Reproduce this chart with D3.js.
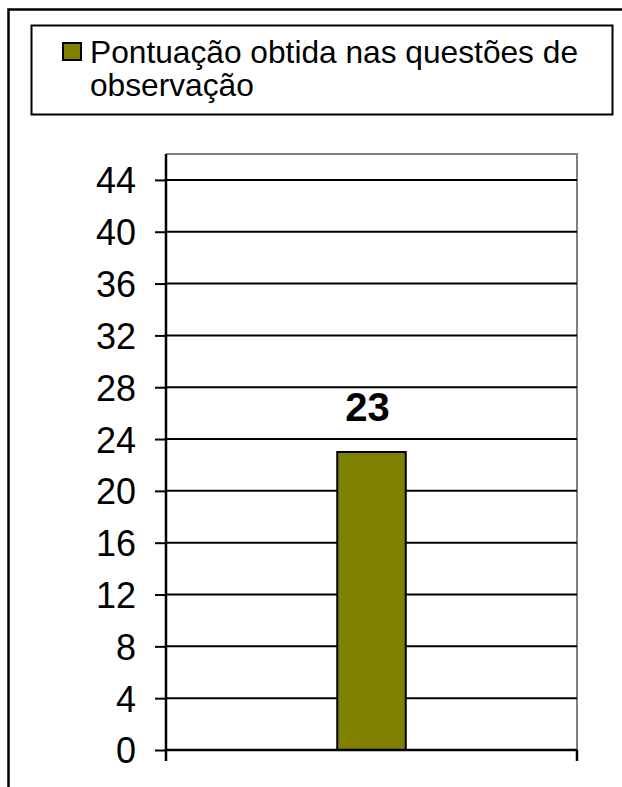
<!DOCTYPE html>
<html><head><meta charset="utf-8">
<script src="https://cdn.jsdelivr.net/npm/d3@7"></script>
<style>body{margin:0;background:#fff}svg{display:block}</style>
</head><body>
<script>
const categories = ["Pontuação obtida nas questões de observação"];
const values = [23];
const seriesName = ["Pontuação obtida nas questões de", "observação"];
const yTicks = [0,4,8,12,16,20,24,28,32,36,40,44];
const yMax = 46;

(function(){
const W = 622, H = 787;
const svg = d3.select("body").append("svg").attr("width", W).attr("height", H);
const font = "Liberation Sans, Arial, sans-serif";

// outer frame
svg.append("path").attr("d", `M8.5,${H+5} L8.5,9.5 L${W+5},9.5`).attr("fill","none").attr("stroke","#000").attr("stroke-width",2.5);

// legend
const lg = svg.append("g");
lg.append("rect").attr("x",31.5).attr("y",25.5).attr("width",581).attr("height",89).attr("fill","#fff").attr("stroke","#000").attr("stroke-width",2);
lg.append("rect").attr("x",63).attr("y",43).attr("width",18).attr("height",17).attr("fill","#808000").attr("stroke","#000").attr("stroke-width",2);
lg.append("text").attr("font-family",font).attr("font-size",31.7).attr("fill","#000")
  .selectAll("tspan").data(seriesName).join("tspan")
  .attr("x",90).attr("y",(d,i)=>63+i*33).text(d=>d);

// plot
const pl = 166, pr = 577, pt = 154, pb = 750;
const x = d3.scaleBand().domain(categories).range([pl,pr]).paddingInner(0).paddingOuter(0);
const y = d3.scaleLinear().domain([0,yMax]).range([pb,pt]);

// plot border (gray top/right)
svg.append("path").attr("d",`M${pl},${pt} L${pr},${pt} L${pr},${pb}`).attr("fill","none").attr("stroke","#808080").attr("stroke-width",2);

// gridlines
svg.append("g").selectAll("line").data(yTicks.filter(t=>t>0)).join("line")
  .attr("x1",pl).attr("x2",pr).attr("y1",d=>y(d)).attr("y2",d=>y(d))
  .attr("stroke","#000").attr("stroke-width",2);

// bar
const bw = x.bandwidth()/6;
svg.append("g").selectAll("rect").data(values).join("rect")
  .attr("x",(d,i)=>x(categories[i])+x.bandwidth()/2-bw/2)
  .attr("y",d=>y(d)).attr("width",bw).attr("height",d=>pb-y(d))
  .attr("fill","#808000").attr("stroke","#000").attr("stroke-width",2);

// value label
svg.append("g").selectAll("text").data(values).join("text")
  .attr("x",(d,i)=>x(categories[i])+x.bandwidth()/2-4).attr("y",d=>y(d)-31)
  .attr("text-anchor","middle").attr("font-family",font).attr("font-weight","bold").attr("font-size",40)
  .text(d=>d);

// y axis
const yAxis = d3.axisLeft(y).tickValues(yTicks).tickSize(11).tickPadding(19);
const ya = svg.append("g").attr("transform",`translate(${pl},0)`).call(yAxis);
ya.select(".domain").remove();
ya.selectAll(".tick line").attr("stroke","#000").attr("stroke-width",2);
ya.selectAll(".tick text").attr("font-family",font).attr("font-size",36).attr("fill","#000").attr("dy","0.36em");
svg.append("line").attr("x1",pl).attr("x2",pl).attr("y1",pt).attr("y2",pb+11).attr("stroke","#000").attr("stroke-width",2.5);

// x axis
svg.append("line").attr("x1",pl).attr("x2",pr).attr("y1",pb).attr("y2",pb).attr("stroke","#000").attr("stroke-width",2.5);
svg.append("line").attr("x1",pr).attr("x2",pr).attr("y1",pb).attr("y2",pb+11).attr("stroke","#000").attr("stroke-width",2.5);
})();
</script>
</body></html>
